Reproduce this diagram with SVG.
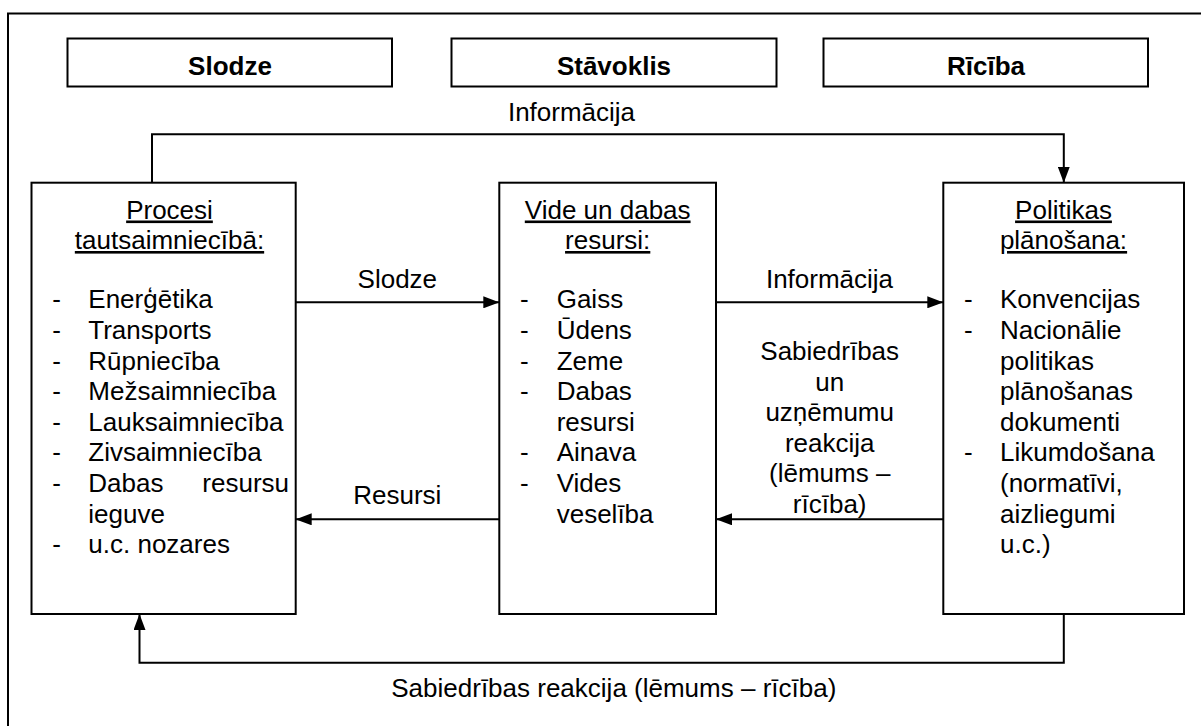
<svg xmlns="http://www.w3.org/2000/svg" width="1201" height="726" viewBox="0 0 1201 726">
<defs>
<style>
.box{fill:#fff;stroke:#000;stroke-width:2}
.t{font-family:"Liberation Sans",Arial,sans-serif;font-size:26px;fill:#000}
.b{font-weight:bold;text-anchor:middle}
.c{text-anchor:middle}
.u{text-decoration:underline}
.e{text-anchor:end}
.ln{fill:none;stroke:#000;stroke-width:2}
</style>
<marker id="ah" viewBox="0 0 16 12" refX="16" refY="6" markerWidth="16" markerHeight="12" markerUnits="userSpaceOnUse" orient="auto">
<path d="M0,0 L16,6 L0,12 Z" fill="#000"/>
</marker>
</defs>
<rect width="1201" height="726" fill="#fff"/>
<rect id="frame" x="8" y="13.5" width="1210" height="730" fill="none" stroke="#000" stroke-width="2"/>

<g id="hdr-slodze"><rect class="box" x="67.5" y="38.5" width="324.5" height="48"/><text class="t b" x="230" y="75">Slodze</text></g>
<g id="hdr-stavoklis"><rect class="box" x="451.5" y="38.5" width="325" height="48"/><text class="t b" x="614" y="75">Stāvoklis</text></g>
<g id="hdr-riciba"><rect class="box" x="823.5" y="38.5" width="324.5" height="48"/><text class="t b" x="986" y="75">Rīcība</text></g>

<g id="connectors">
<path class="ln" d="M152,182.7 V134.3 H1063.8 V182.7" marker-end="url(#ah)"/>
<line class="ln" x1="295.7" y1="302.3" x2="499.3" y2="302.3" marker-end="url(#ah)"/>
<line class="ln" x1="716" y1="302.3" x2="943.3" y2="302.3" marker-end="url(#ah)"/>
<line class="ln" x1="943.3" y1="519.3" x2="716" y2="519.3" marker-end="url(#ah)"/>
<line class="ln" x1="499.3" y1="519.3" x2="295.7" y2="519.3" marker-end="url(#ah)"/>
<path class="ln" d="M1063.8,614 V662.7 H139.5 V614" marker-end="url(#ah)"/>
<text class="t c" x="571.5" y="120.7">Informācija</text>
<text class="t c" x="397.3" y="288.3">Slodze</text>
<text class="t c" x="829.5" y="288.3">Informācija</text>
<text class="t c" x="397.3" y="504">Resursi</text>
<text class="t c" x="829.7"><tspan x="829.7" y="360">Sabiedrības</tspan><tspan x="829.7" y="390.6">un</tspan><tspan x="829.7" y="421.2">uzņēmumu</tspan><tspan x="829.7" y="451.8">reakcija</tspan><tspan x="829.7" y="482.4">(lēmums –</tspan><tspan x="829.7" y="513">rīcība)</tspan></text>
<text class="t c" x="613.8" y="696.7">Sabiedrības reakcija (lēmums – rīcība)</text>
</g>

<g id="node-procesi">
<rect class="box" x="31.5" y="182.7" width="264.2" height="431.3"/>
<text class="t c u" x="169.5" y="218.5">Procesi</text>
<text class="t c u" x="169.5" y="249">tautsaimniecībā:</text>
<text class="t c"><tspan x="56.7" y="308.3">-</tspan><tspan x="56.7" y="338.9">-</tspan><tspan x="56.7" y="369.5">-</tspan><tspan x="56.7" y="400.1">-</tspan><tspan x="56.7" y="430.7">-</tspan><tspan x="56.7" y="461.3">-</tspan><tspan x="56.7" y="491.9">-</tspan><tspan x="56.7" y="553.1">-</tspan></text>
<text class="t"><tspan x="88.3" y="308.3">Enerģētika</tspan><tspan x="88.3" y="338.9">Transports</tspan><tspan x="88.3" y="369.5">Rūpniecība</tspan><tspan x="88.3" y="400.1">Mežsaimniecība</tspan><tspan x="88.3" y="430.7">Lauksaimniecība</tspan><tspan x="88.3" y="461.3">Zivsaimniecība</tspan><tspan x="88.3" y="491.9">Dabas</tspan><tspan x="88.3" y="522.5">ieguve</tspan><tspan x="88.3" y="553.1">u.c. nozares</tspan></text>
<text class="t e" x="289" y="491.9">resursu</text>
</g>

<g id="node-vide">
<rect class="box" x="499.3" y="182.7" width="216.7" height="431.3"/>
<text class="t c u" x="607.7" y="218.5">Vide un dabas</text>
<text class="t c u" x="607.7" y="249">resursi:</text>
<text class="t c"><tspan x="524.3" y="308.3">-</tspan><tspan x="524.3" y="338.9">-</tspan><tspan x="524.3" y="369.5">-</tspan><tspan x="524.3" y="400.1">-</tspan><tspan x="524.3" y="461.3">-</tspan><tspan x="524.3" y="491.9">-</tspan></text>
<text class="t"><tspan x="556.7" y="308.3">Gaiss</tspan><tspan x="556.7" y="338.9">Ūdens</tspan><tspan x="556.7" y="369.5">Zeme</tspan><tspan x="556.7" y="400.1">Dabas</tspan><tspan x="556.7" y="430.7">resursi</tspan><tspan x="556.7" y="461.3">Ainava</tspan><tspan x="556.7" y="491.9">Vides</tspan><tspan x="556.7" y="522.5">veselība</tspan></text>
</g>

<g id="node-politikas">
<rect class="box" x="943.3" y="182.7" width="240.7" height="431.3"/>
<text class="t c u" x="1063.5" y="218.5">Politikas</text>
<text class="t c u" x="1063.5" y="249">plānošana:</text>
<text class="t c"><tspan x="968.3" y="308.3">-</tspan><tspan x="968.3" y="338.9">-</tspan><tspan x="968.3" y="461.3">-</tspan></text>
<text class="t"><tspan x="1000" y="308.3">Konvencijas</tspan><tspan x="1000" y="338.9">Nacionālie</tspan><tspan x="1000" y="369.5">politikas</tspan><tspan x="1000" y="400.1">plānošanas</tspan><tspan x="1000" y="430.7">dokumenti</tspan><tspan x="1000" y="461.3">Likumdošana</tspan><tspan x="1000" y="491.9">(normatīvi,</tspan><tspan x="1000" y="522.5">aizliegumi</tspan><tspan x="1000" y="553.1">u.c.)</tspan></text>
</g>
</svg>
